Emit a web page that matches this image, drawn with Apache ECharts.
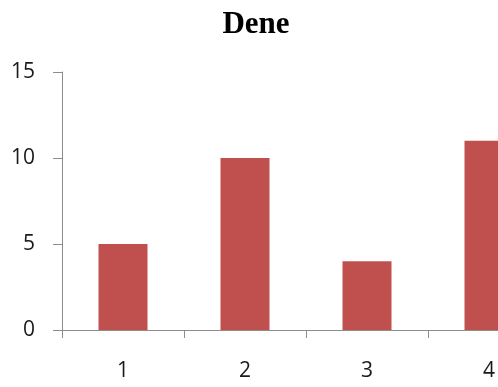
<!DOCTYPE html>
<html>
<head>
<meta charset="utf-8">
<script src="https://cdn.jsdelivr.net/npm/echarts@6/dist/echarts.min.js"></script>
<style>
  html, body { margin: 0; padding: 0; background: #fff; }
  #chart { width: 498px; height: 387px; }
</style>
</head>
<body>
<div id="chart"></div>
<script>
// Category labels and bar values
const categories = ['1', '2', '3', '4'];
const values = [5, 10, 4, 11];
const yTicks = { min: 0, max: 15, interval: 5 };

const chart = echarts.init(document.getElementById('chart'), null, { renderer: 'canvas' });

const axisGrey = '#8c8c8c';
const labelFont = { fontFamily: 'Open Sans', fontSize: 21, color: '#1a1a1a' };

chart.setOption({
  animation: false,
  backgroundColor: '#ffffff',
  title: {
    text: 'Dene',
    left: 251,
    top: 4,
    textAlign: 'center',
    textStyle: { fontFamily: 'Liberation Serif', fontWeight: 'bold', fontSize: 31, color: '#000' }
  },
  // plot area runs past the right edge, so the last bar is cut off
  grid: {
    left: 62, top: 72, width: 488, height: 258,
    containLabel: false,
    outerBoundsMode: 'none'
  },
  xAxis: {
    type: 'category',
    data: categories,
    boundaryGap: true,
    axisLine: { lineStyle: { color: axisGrey, width: 1 } },
    axisTick: { show: true, length: 8, alignWithLabel: false, lineStyle: { color: axisGrey } },
    axisLabel: Object.assign({ margin: 31 }, labelFont),
    splitLine: { show: false }
  },
  yAxis: {
    type: 'value',
    min: yTicks.min,
    max: yTicks.max,
    interval: yTicks.interval,
    axisLine: { show: true, lineStyle: { color: axisGrey, width: 1 } },
    axisTick: { show: true, length: 9, lineStyle: { color: axisGrey } },
    axisLabel: Object.assign({ margin: 27 }, labelFont),
    splitLine: { show: false }
  },
  series: [{
    type: 'bar',
    data: values,
    barWidth: 49,
    itemStyle: { color: '#c0504d' }
  }]
});
</script>
</body>
</html>
